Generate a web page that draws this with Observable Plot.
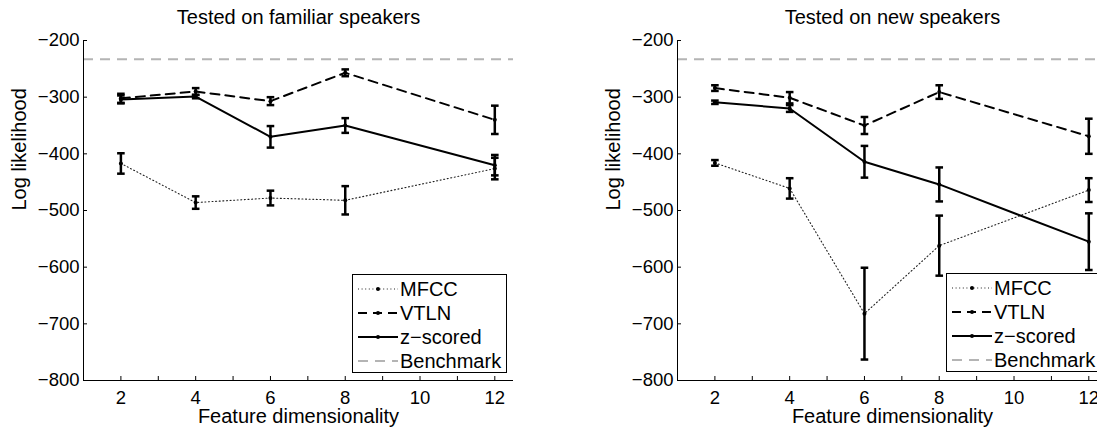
<!DOCTYPE html>
<html><head><meta charset="utf-8">
<script src="https://cdn.jsdelivr.net/npm/d3@7"></script>
<script src="https://cdn.jsdelivr.net/npm/@observablehq/plot@0.6"></script>
<style>
html,body{margin:0;padding:0;background:#fff;overflow:hidden}
#wrap{position:relative;width:1097px;height:431px;overflow:hidden;background:#fff}
.panel{position:absolute;top:0}
.legend{position:absolute}
</style></head><body><div id="wrap"></div>
<script>
// ---- data ----
const dims = [2, 4, 6, 8, 12];
const seriesNames = ["MFCC", "VTLN", "z\u2212scored"];
const benchmark = -233;
const xTicks = [2, 3, 4, 5, 6, 7, 8, 9, 10, 11, 12];
const yTicks = [-800, -700, -600, -500, -400, -300, -200];

// Tested on familiar speakers
const famMFCC = [-417, -486, -478, -482, -426];
const famMFCCErr = [18, 11, 13, 25, 19];
const famVTLN = [-302, -290, -307, -257, -340];
const famVTLNErr = [8, 6, 7, 6, 25];
const famZ = [-304, -299, -370, -350, -420];
const famZErr = [7, 3, 19, 13, 18];

// Tested on new speakers
const newMFCC = [-416, -461, -682, -562, -464];
const newMFCCErr = [5, 18, 81, 53, 21];
const newVTLN = [-284, -301, -350, -291, -369];
const newVTLNErr = [5, 10, 15, 12, 31];
const newZ = [-309, -320, -414, -454, -555];
const newZErr = [3, 6, 28, 30, 50];

const styles = {
  "MFCC": {strokeWidth: 1.1, strokeDasharray: "1,2.6", stroke: "#222"},
  "VTLN": {strokeWidth: 2, strokeDasharray: "9,6", stroke: "black"},
  "z\u2212scored": {strokeWidth: 2, strokeDasharray: null, stroke: "black"}
};

const FONT = "'Liberation Sans', Arial, Helvetica, sans-serif";
const TICK_FS = 18.5, TEXT_FS = 20;

function rowsFor(means, errs) {
  return means.map((arr, si) => dims.map((d, i) => ({
    series: seriesNames[si], x: d, y: arr[i], lo: arr[i] - errs[si][i], hi: arr[i] + errs[si][i]
  }))).flat();
}

const capSymbol = {
  draw(context, size) {
    const w = Math.sqrt(size / Math.PI);
    context.moveTo(-w, 0);
    context.lineTo(w, 0);
  }
};

function panel(title, rows) {
  const lineMarks = seriesNames.map(s => Plot.line(rows.filter(r => r.series === s), {
    x: "x", y: "y", stroke: styles[s].stroke, strokeWidth: styles[s].strokeWidth,
    strokeDasharray: styles[s].strokeDasharray
  }));
  return Plot.plot({
    width: 548, height: 431,
    marginLeft: 83, marginRight: 35, marginTop: 40, marginBottom: 51,
    x: {domain: [1, 12.5]},
    y: {domain: [-800, -200]},
    style: {fontFamily: FONT, fontSize: TICK_FS + "px", background: "white", color: "black", overflow: "visible"},
    marks: [
      Plot.ruleY([benchmark], {stroke: "#b4b4b4", strokeWidth: 2, strokeDasharray: "10,7"}),
      Plot.ruleX([1], {stroke: "black", strokeWidth: 1}),
      Plot.ruleY([-800], {stroke: "black", strokeWidth: 1}),
      Plot.axisX({ticks: xTicks, tickSize: -4, tickPadding: 14, tickFormat: d => d % 2 ? "" : String(d), label: null, fontSize: TICK_FS}),
      Plot.axisY({ticks: yTicks, tickSize: -4, tickPadding: 8, label: null, fontSize: TICK_FS}),
      ...lineMarks,
      Plot.ruleX(rows, {x: "x", y1: "lo", y2: "hi", stroke: "black", strokeWidth: 2.5}),
      Plot.dot(rows, {x: "x", y: "lo", symbol: capSymbol, r: 3.8, fill: "none", stroke: "black", strokeWidth: 2.5}),
      Plot.dot(rows, {x: "x", y: "hi", symbol: capSymbol, r: 3.8, fill: "none", stroke: "black", strokeWidth: 2.5}),
      Plot.dot(rows, {x: "x", y: "y", r: 2, fill: "black", stroke: null}),
      Plot.text([title], {frameAnchor: "top", lineAnchor: "middle", dy: -22.5, fontSize: TEXT_FS, fill: "black"}),
      Plot.text(["Feature dimensionality"], {frameAnchor: "bottom", lineAnchor: "middle", dy: 36, fontSize: TEXT_FS, fill: "black"}),
      Plot.text(["Log likelihood"], {frameAnchor: "left", lineAnchor: "middle", dx: -64, rotate: -90, fontSize: TEXT_FS, fill: "black"})
    ]
  });
}

function legend(left, top) {
  const W = 155, H = 99;
  const svg = d3.create("svg").attr("class", "legend").attr("width", W).attr("height", H)
    .style("left", left + "px").style("top", top + "px");
  svg.append("rect").attr("x", 0.5).attr("y", 0.5).attr("width", W - 1).attr("height", H - 1)
    .attr("fill", "white").attr("stroke", "black").attr("stroke-width", 1);
  const entries = [...seriesNames.map(s => ({name: s, ...styles[s], dot: true})),
    {name: "Benchmark", stroke: "#b4b4b4", strokeWidth: 2, strokeDasharray: "10,7", dot: false}];
  entries.forEach((e, i) => {
    const y = 15 + i * 24;
    svg.append("line").attr("x1", 6).attr("x2", 46).attr("y1", y).attr("y2", y)
      .attr("stroke", e.stroke).attr("stroke-width", e.strokeWidth)
      .attr("stroke-dasharray", e.strokeDasharray);
    if (e.dot) svg.append("circle").attr("cx", 26).attr("cy", y).attr("r", 2).attr("fill", "black");
    svg.append("text").attr("x", 48).attr("y", y).attr("dy", "0.36em")
      .attr("font-family", FONT).attr("font-size", TEXT_FS).attr("fill", "black").text(e.name);
  });
  return svg.node();
}

const wrap = document.getElementById("wrap");
const famRows = rowsFor([famMFCC, famVTLN, famZ], [famMFCCErr, famVTLNErr, famZErr]);
const newRows = rowsFor([newMFCC, newVTLN, newZ], [newMFCCErr, newVTLNErr, newZErr]);
const p1 = panel("Tested on familiar speakers", famRows);
p1.classList.add("panel"); p1.style.left = "0px";
const p2 = panel("Tested on new speakers", newRows);
p2.classList.add("panel"); p2.style.left = "594px";
wrap.appendChild(p1);
wrap.appendChild(p2);
wrap.appendChild(legend(352, 274));
wrap.appendChild(legend(946, 273));
</script>
</body></html>
